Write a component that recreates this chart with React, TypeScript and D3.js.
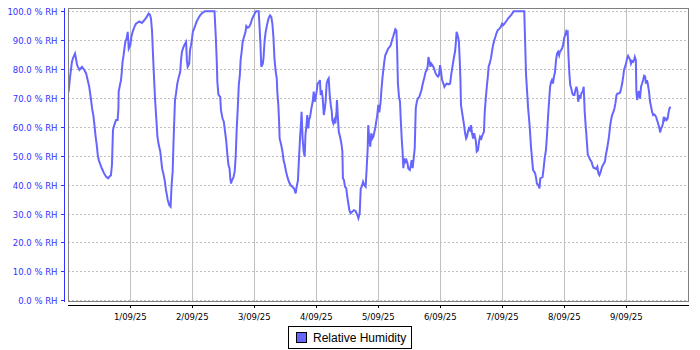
import * as d3 from 'd3'

// 31/08/25 00:00 to 10/09/25 00:00, readings are hours after start
const startDate = new Date(2025, 7, 31)
const endDate = new Date(2025, 8, 10)
const seriesName = 'Relative Humidity'
const yTicks = [0, 10, 20, 30, 40, 50, 60, 70, 80, 90, 100]

const readings: [number, number][] = [
    // 31/08
    [0.1, 72], [0.7, 77.4], [1.0, 79.6], [1.4, 82.5], [1.9, 84], [2.6, 85.4], [3.0, 83.5], [3.4, 81.4],
    [4.3, 79.7], [5.3, 80.8], [6.2, 79.7], [6.9, 78.5], [7.5, 76.2], [8.1, 73.9], [8.7, 70], [9.2, 66.4],
    [9.7, 64], [10.2, 60], [10.5, 57.2], [11.0, 53.8], [11.4, 50.3], [11.8, 48.5], [12.4, 47], [13.0, 45.6],
    [13.8, 44], [14.6, 42.8], [15.4, 42.2], [16.1, 43], [16.5, 43.2], [16.9, 46.8], [17.3, 59], [17.8, 60.6],
    [18.5, 62.4], [19.1, 62.4], [19.4, 66.4], [19.5, 72.2], [20.0, 74.5], [20.4, 76.2], [20.7, 79], [21.0, 82.5],
    [21.4, 84.8], [21.8, 87.7], [22.1, 89.6], [22.6, 90.6], [23.0, 92.9], [23.4, 87.1],
    // 1/09
    [24.0, 88.2], [24.4, 91.1], [24.9, 92.9], [25.6, 94.6], [26.2, 95.7], [27.5, 96.5], [28.5, 96], [29.4, 96.9],
    [30.3, 98], [31.1, 99.2], [31.6, 98.8], [32.0, 97.5], [32.4, 93.4], [32.8, 84.8], [33.2, 76.8], [33.6, 69.3],
    [34.1, 62.4], [34.5, 56.6], [35.0, 53.8], [35.6, 51.5], [36.3, 45.7], [36.9, 43.4], [37.3, 41.6], [37.8, 38.2],
    [38.5, 34.7], [39.1, 32.9], [39.6, 32.4], [40.0, 40], [40.4, 44.6], [40.7, 53.8], [41.0, 61.8], [41.3, 69.3],
    [41.7, 71.6], [42.2, 75], [42.8, 77.4], [43.3, 79], [43.7, 83.7], [44.0, 86], [44.6, 87.7], [45.2, 88.8],
    [45.6, 89.4], [45.9, 83.1], [46.2, 80.8], [46.8, 81.9], [47.1, 86.5], [47.5, 88.2], [47.9, 90.6],
    // 2/09
    [48.2, 92.9], [48.7, 94], [49.2, 95.2], [49.7, 96.5], [50.4, 97.7], [51.0, 98.6], [51.9, 99.5], [52.9, 100],
    [56.6, 100], [56.8, 96.3], [57.1, 91.1], [57.5, 81.9], [57.7, 75.6], [58.1, 71.2], [58.8, 70.4], [59.1, 65.8],
    [59.7, 62.9], [60.2, 61.8], [60.6, 58.9], [61.1, 55.4], [61.6, 50.2], [62.0, 46.8], [62.4, 45.7], [62.7, 42.2],
    [63.0, 40.4], [63.4, 41.6], [63.9, 42.4], [64.4, 44.5], [64.8, 49.7], [65.2, 59.5], [65.6, 66.4], [66.0, 74.5],
    [66.4, 77.9], [66.7, 83.1], [67.1, 86], [67.5, 89.4], [68.0, 91.1], [68.6, 92.9], [68.9, 94.9], [69.5, 94.3],
    [70.0, 94.6], [70.6, 95.7], [71.1, 97.2], [71.7, 98.4],
    // 3/09
    [72.3, 99.5], [72.7, 100], [73.7, 100], [74.0, 95.2], [74.4, 88.2], [74.7, 80.8], [75.3, 81.9], [75.6, 84.2],
    [76.0, 90], [76.4, 92.9], [76.9, 95.2], [77.5, 97.5], [78.1, 98.6], [78.6, 98], [79.0, 95.7], [79.4, 91.1],
    [79.8, 83.7], [80.3, 79], [80.7, 76.8], [80.9, 72.2], [81.3, 67.6], [81.6, 61.8], [81.8, 56], [82.4, 53.8],
    [82.9, 51.5], [83.3, 48.6], [83.8, 46.8], [84.3, 44.5], [84.8, 42.7], [85.4, 41], [86.1, 39.8], [86.7, 39.3],
    [87.4, 38.7], [88.0, 37], [88.4, 39.3], [88.9, 41.6], [89.3, 49.1], [89.7, 56], [90.1, 61.8], [90.3, 65.2],
    [90.7, 56], [91.1, 51.5], [91.5, 49.7], [91.8, 57.2], [92.2, 60.6], [92.5, 64.1], [92.9, 59.5], [93.2, 62.4],
    [93.6, 63.5], [94.1, 66.4], [94.6, 68.7], [95.0, 72.2], [95.4, 68.7], [95.8, 70.4],
    // 4/09
    [96.2, 72.7], [96.5, 75], [97.1, 75.6], [97.4, 76.2], [97.7, 71], [98.1, 72.7], [98.5, 69.8], [98.9, 64.1],
    [99.3, 66.4], [99.6, 68.7], [100.0, 75], [100.4, 76.2], [100.8, 76.8], [101.2, 71], [101.6, 67.6], [102.0, 65.2],
    [102.2, 62.4], [102.6, 61.2], [103.0, 62.4], [103.4, 61.2], [103.8, 65.2], [104.0, 69.3], [104.3, 64.1], [104.7, 58.3],
    [105.2, 56.6], [105.7, 54.3], [106.1, 51.5], [106.3, 42.2], [106.7, 41.6], [107.1, 39.3], [107.6, 38.7], [108.0, 35.8],
    [108.4, 33.5], [108.8, 31.2], [109.3, 30.1], [110.0, 30.7], [110.6, 31.2], [111.2, 30.9], [111.9, 29.5], [112.3, 28.4],
    [112.8, 30.1], [113.2, 38.7], [113.6, 39.3], [114.1, 41], [114.6, 39.8], [115.1, 39.3], [115.5, 45.7], [115.9, 52.6],
    [116.1, 60.6], [116.5, 56], [116.9, 53.2], [117.3, 57.8], [117.7, 56], [118.1, 56.6], [118.5, 58.3], [118.9, 60],
    [119.2, 61.8], [119.6, 64.1],
    // 5/09
    [120.0, 67.6], [120.4, 65], [120.9, 68.7], [121.2, 72.7], [121.6, 76.8], [122.0, 80.2], [122.4, 83.1], [122.7, 84.8],
    [123.3, 86], [123.8, 87.1], [124.4, 87.7], [124.8, 88.2], [125.3, 90], [125.7, 91.1], [126.1, 92.3], [126.6, 93.8],
    [127.0, 93.4], [127.3, 86.5], [127.6, 75], [128.0, 70.4], [128.4, 68.7], [128.7, 62.4], [129.1, 55.4], [129.4, 51.5],
    [129.7, 45.7], [130.1, 49.1], [130.5, 47.9], [130.9, 48.5], [131.3, 47.4], [131.6, 45.7], [132.2, 45.1], [132.5, 46.2],
    [132.9, 48.5], [133.3, 45.7], [133.7, 49.1], [134.1, 52.6], [134.5, 66.4], [134.9, 68.7], [135.3, 69.8], [135.9, 70.4],
    [136.3, 71.6], [136.7, 72.7], [137.1, 74.5], [137.4, 75.6], [137.8, 77], [138.3, 79], [138.7, 79.6], [139.1, 80.8],
    [139.4, 84.2], [139.8, 82.5], [140.2, 80.8], [140.5, 81.9], [140.9, 81.4], [141.3, 80.8], [141.8, 79.6], [142.2, 78.5],
    [142.6, 77.9], [143.1, 77.4], [143.5, 77.9], [143.9, 81.4],
    // 6/09
    [144.3, 79], [144.7, 76.2], [145.2, 75], [145.6, 73.9], [146.0, 74.5], [146.5, 75], [147.2, 74.7], [147.8, 75],
    [148.2, 77.9], [148.5, 79.7], [148.9, 81.9], [149.3, 84.2], [149.7, 86], [150.0, 88.8], [150.3, 92.9], [150.7, 91.7],
    [151.0, 90.6], [151.2, 89.4], [151.5, 83.7], [151.8, 76.2], [152.0, 67.6], [152.4, 65.2], [152.8, 62.9], [153.2, 60.6],
    [153.6, 57.8], [154.0, 56], [154.3, 56.6], [154.7, 58.3], [155.1, 59.5], [155.5, 58.9], [155.9, 60.6], [156.3, 57.8],
    [156.7, 56], [157.1, 57.8], [157.4, 56.6], [157.8, 54.9], [158.1, 51.5], [158.6, 52], [159.0, 54.9], [159.4, 56.6],
    [159.9, 56], [160.3, 57.2], [160.9, 58.3], [161.2, 65.2], [161.6, 69.8], [162.0, 73.9], [162.4, 77.4], [162.7, 80.8],
    [163.1, 81.9], [163.6, 83.7], [164.0, 86], [164.4, 88.2], [164.9, 90], [165.3, 91.1], [165.7, 92.3], [166.2, 93.4],
    [166.9, 94], [167.4, 94.6], [167.9, 95.7],
    // 7/09
    [168.3, 95.2], [168.8, 95.7], [169.3, 96.3], [169.8, 96.9], [170.2, 97.5], [170.7, 98], [171.3, 98.6], [171.8, 99.2],
    [172.4, 100], [176.5, 100], [176.8, 90.6], [177.2, 77.9], [177.6, 72.2], [178.0, 66.4], [178.4, 62.4], [178.7, 58.9],
    [179.1, 53.2], [179.5, 49.1], [179.9, 45.1], [180.3, 44.5], [180.7, 44], [181.1, 42.2], [181.4, 40.4], [182.0, 39.8],
    [182.4, 38.7], [182.7, 42.2], [183.1, 42.4], [183.6, 42.7], [184.0, 45.7], [184.4, 49.1], [184.9, 52], [185.3, 57.2],
    [185.7, 63.5], [186.1, 68.7], [186.5, 73.9], [186.9, 75.6], [187.2, 76.2], [187.6, 75], [188.0, 77.4], [188.4, 79],
    [188.8, 83.1], [189.2, 85.4], [189.6, 86], [190.0, 84.8], [190.3, 86], [190.7, 86.5], [191.1, 87.1], [191.5, 88.2],
    [191.9, 90.6],
    // 8/09
    [192.3, 91.7], [192.7, 92.9], [193.1, 91.7], [193.3, 93.4], [193.6, 84.8], [194.0, 77.9], [194.3, 74.5], [194.7, 73.3],
    [195.1, 71.6], [195.5, 71], [195.9, 71], [196.3, 72.7], [196.7, 73.9], [197.1, 72.2], [197.4, 68.7], [197.8, 71],
    [198.2, 69.8], [198.6, 71.6], [199.1, 72.2], [199.5, 73.9], [199.9, 65.2], [200.3, 60], [200.5, 57.8], [201.1, 50.3],
    [201.5, 49.7], [202.0, 48.6], [202.5, 48], [202.9, 46.8], [203.3, 45.9], [203.8, 45.7], [204.3, 45.4], [204.8, 46.2],
    [205.2, 43.9], [205.6, 43.3], [206.1, 44.5], [206.6, 46.2], [207.1, 47], [207.7, 48], [208.2, 50.8], [208.6, 52.6],
    [209.0, 54.9], [209.3, 56.6], [209.7, 60], [210.1, 62.4], [210.5, 64.1], [211.0, 65.2], [211.4, 66.4], [211.8, 68.2],
    [212.2, 71], [212.6, 71.6], [213.1, 71.6], [213.6, 71.9], [214.0, 73.3], [214.4, 75], [214.8, 77.4], [215.1, 79.6],
    [215.5, 80.8], [215.9, 81.9],
    // 9/09
    [216.3, 83.7], [216.7, 84.6], [217.1, 83.9], [217.5, 83.1], [217.8, 81.9], [218.2, 82.8], [218.6, 82.5], [219.0, 83.1],
    [219.3, 84.2], [219.7, 83.1], [219.9, 72.2], [220.2, 69.3], [220.6, 71.6], [220.9, 72.4], [221.3, 69.8], [221.7, 73.9],
    [222.1, 75], [222.5, 76.2], [222.9, 77.7], [223.3, 77.4], [223.6, 75], [224.0, 76.2], [224.4, 74.5], [224.8, 72.2],
    [225.2, 68.7], [225.6, 67], [226.0, 65.2], [226.4, 64.1], [226.7, 64.3], [227.1, 64.1], [227.5, 63.5], [227.9, 62.4],
    [228.3, 61.2], [228.7, 60], [229.1, 58.1], [229.5, 59.5], [229.8, 60], [230.2, 61.2], [230.5, 63.5], [230.9, 62.4],
    [231.3, 62.9], [231.6, 62.4], [232.0, 62.9], [232.3, 64.7], [232.7, 66.4], [233.1, 67],
]

const W = 700
const H = 350
const left = 68.3
const right = 688.3
const top = 8
const bottom = 301

const lineColor = '#6666ff'
const axisBlue = '#3333ff'
const gridColor = '#c0c0c0'
const tickFont = '"DejaVu Sans", sans-serif'

function App() {
    const x = d3.scaleTime().domain([startDate, endDate]).range([left, right])
    const y = d3.scaleLinear().domain([-0.25, 101.15]).range([bottom, top])

    const points = readings.map(([h, v]) => ({
        t: new Date(startDate.getTime() + h * 3600 * 1000),
        v,
    }))

    const valueLine = d3
        .line<{ t: Date; v: number }>()
        .x((d) => x(d.t))
        .y((d) => y(d.v))

    const days = d3.timeDay.range(d3.timeDay.offset(startDate, 1), endDate)
    const fmt = d3.timeFormat('%-d/%m/%y')
    const crisp = (n: number) => Math.round(n) + 0.5

    return (
        <svg
            width={W}
            height={H}
            style={{ position: 'absolute', left: 0, top: 0, background: '#fff' }}
        >
            <defs>
                <clipPath id="plot-clip">
                    <rect x={68} y={8} width={621} height={294} />
                </clipPath>
            </defs>

            {/* grid */}
            {yTicks.map((t) => (
                <line
                    key={'gy' + t}
                    x1={68}
                    x2={688}
                    y1={crisp(y(t))}
                    y2={crisp(y(t))}
                    stroke={gridColor}
                    strokeDasharray="2,2"
                />
            ))}
            {days.map((d) => (
                <line
                    key={'gx' + d.getTime()}
                    x1={crisp(x(d))}
                    x2={crisp(x(d))}
                    y1={8}
                    y2={301}
                    stroke={gridColor}
                />
            ))}

            {/* series */}
            <path
                d={valueLine(points) || ''}
                fill="none"
                stroke={lineColor}
                strokeWidth={2}
                strokeLinejoin="miter"
                clipPath="url(#plot-clip)"
            />

            {/* plot outline */}
            <rect x={68.5} y={8.5} width={620} height={293} fill="none" stroke="#808080" />

            {/* y axis */}
            <line x1={64.5} x2={64.5} y1={8} y2={302} stroke={axisBlue} />
            {yTicks.map((t) => (
                <g key={'ty' + t}>
                    <line x1={61} x2={64} y1={crisp(y(t))} y2={crisp(y(t))} stroke={axisBlue} />
                    <text
                        x={57.5}
                        y={Math.round(y(t)) + 4}
                        textAnchor="end"
                        fill={axisBlue}
                        fontSize="8.5"
                        fontFamily={tickFont}
                    >
                        {t.toFixed(1) + ' % RH'}
                    </text>
                </g>
            ))}

            {/* x axis */}
            <line x1={68} x2={689} y1={305.5} y2={305.5} stroke="#000" />
            {days.map((d) => (
                <g key={'tx' + d.getTime()}>
                    <line x1={crisp(x(d))} x2={crisp(x(d))} y1={305} y2={308} stroke="#000" />
                    <text
                        x={x(d)}
                        y={319.5}
                        textAnchor="middle"
                        fill="#000"
                        fontSize="8.5"
                        fontFamily={tickFont}
                    >
                        {fmt(d)}
                    </text>
                </g>
            ))}

            {/* legend */}
            <rect x={288.5} y={326.5} width={123} height={22} fill="#fff" stroke="#000" />
            <rect x={296.5} y={332.5} width={10} height={10} fill={lineColor} stroke="#000" />
            <text
                x={313}
                y={341.5}
                fontSize="12"
                fontFamily='"Liberation Sans", Arial, sans-serif'
                fill="#000"
            >
                {seriesName}
            </text>
        </svg>
    )
}

export default App
